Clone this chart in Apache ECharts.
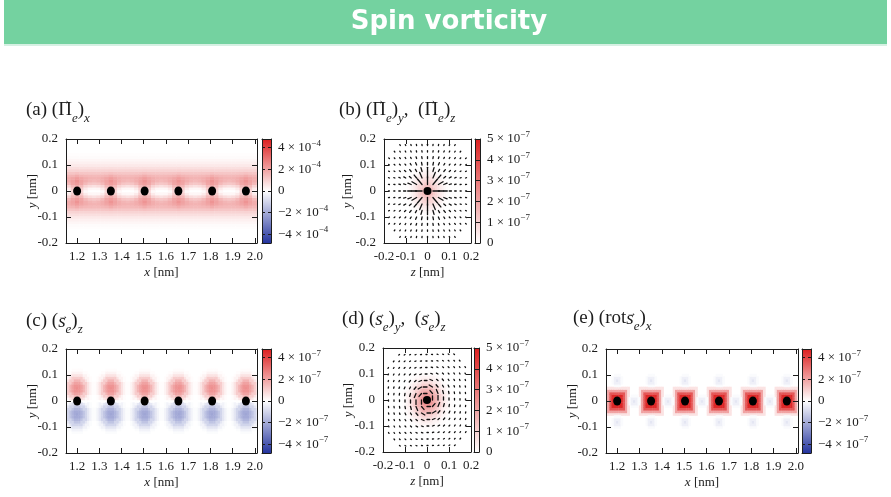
<!DOCTYPE html>
<html><head><meta charset="utf-8">
<script src="https://cdn.jsdelivr.net/npm/echarts@6/dist/echarts.min.js"></script>
<style>html,body{margin:0;padding:0;background:#fff}#c{width:891px;height:497px}</style>
</head><body><div id="c"></div>
<script>
// ================= DATA =================
const atomX = [1.2, 1.352, 1.504, 1.656, 1.808, 1.96];       // atom positions along x [nm]
const xRange = [1.15, 2.01];
const xTicks = [1.2, 1.3, 1.4, 1.5, 1.6, 1.7, 1.8, 1.9, 2.0];
const yTicks = [-0.2, -0.1, 0, 0.1, 0.2];
const zTicks = [-0.2, -0.1, 0, 0.1, 0.2];
const cbSignedTicks = [-4, -2, 0, 2, 4];
const cbPositiveTicks = [0, 1, 2, 3, 4, 5];
const cbSignedRange = [-4.8, 4.8];
const cbPositiveRange = [0, 5];

// (a) (Pi_e)_x  [1e-4], rows |y| = 0..0.20 step 0.01, columns = distance from atom along x
const aColOffset = [0, 0.019, 0.038, 0.057, 0.076];
const aCol0 = [1.2, 1.4, 1.75, 2.1, 2.3, 2.1, 1.75, 1.3, 0.95, 0.7, 0.48, 0.33, 0.19, 0.09, 0.035, 0, 0, 0, 0, 0, 0];
const aCol1 = [0.8, 1.05, 1.5, 1.9, 2.0, 1.9, 1.6, 1.25, 0.92, 0.68, 0.48, 0.33, 0.19, 0.09, 0.035, 0, 0, 0, 0, 0, 0];
const aCol2 = [0.15, 0.45, 0.95, 1.5, 1.75, 1.75, 1.55, 1.22, 0.92, 0.68, 0.48, 0.33, 0.19, 0.09, 0.035, 0, 0, 0, 0, 0, 0];
const aCol3 = [0.0, 0.2, 0.75, 1.25, 1.58, 1.65, 1.5, 1.2, 0.92, 0.68, 0.48, 0.33, 0.19, 0.09, 0.035, 0, 0, 0, 0, 0, 0];
const aCol4 = [0.0, 0.18, 0.65, 1.18, 1.5, 1.62, 1.48, 1.19, 0.92, 0.68, 0.48, 0.33, 0.19, 0.09, 0.035, 0, 0, 0, 0, 0, 0];

// (b) |Pi_e| in y-z plane [1e-7] vs radius (step 0.01 nm)
const bField = [1.7, 1.6, 1.4, 1.15, 0.9, 0.65, 0.45, 0.28, 0.15, 0.07, 0.02];
// (b) arrow length [nm] vs lattice ring index
const bVecLen = [0, 0.030, 0.024, 0.016, 0.010, 0.007, 0.005, 0.0045, 0.004, 0.004];

// (c) (s_e)_z [1e-7]: lobes above (+) and below (-) each atom, vs radius (step 0.01 nm)
const cLobeY = [0.05, -0.05];
const cRed = [2.4, 2.3, 2.0, 1.6, 1.1, 0.6, 0.25, 0.06];
const cBlue = [-2.1, -2.0, -1.75, -1.4, -1.0, -0.6, -0.28, -0.08];

// (d) |s_e| in y-z plane [1e-7] vs radius (step 0.01 nm)
const dField = [2.7, 2.6, 2.35, 2.0, 1.65, 1.3, 0.98, 0.7, 0.45, 0.26, 0.12, 0.04];
const dVecLen = [0, 0.016, 0.017, 0.012, 0.008, 0.006, 0.005, 0.0045, 0.004, 0.004];

// (e) (rot s_e)_x [1e-7]: square core around each atom vs max(|dx|,|dy|) (step 0.01 nm)
const eCore = [4.8, 4.8, 4.6, 3.6, 2.0, 0.6, 0];
// faint negative spots (above/below atoms and between atoms), vs radius (step 0.01 nm)
const eSpot = [-0.6, -0.35, -0.1];
const eSpotY = [0.08, -0.08];

// vector lattice for (b),(d)
const vecStep = 0.025;
const vecIndexMax = 7;
const vecMaxSq = 74;

// ================= STYLE =================
const FONT = "'Liberation Serif', 'DejaVu Serif', serif";
const INK = '#1c1c1c';
const DIVERGING = ['#24349e', '#ffffff', '#dc1f1f'];
const SEQUENTIAL = ['#ffffff', '#dc1f1f'];

// ================= BUILD CELLS =================
const aCols = [aCol0, aCol1, aCol2, aCol3, aCol4];
const aCellW = aColOffset[1], aCellH = 0.01;
const aCells = [];
atomX.forEach((ax, i) => {
  for (let k = (i === 0 ? -4 : -3); k <= 4; k++) {
    const col = aCols[Math.abs(k)];
    for (let j = -20; j <= 20; j++) {
      const v = col[Math.abs(j)];
      if (v > 0) aCells.push([ax + k * aCellW, j * aCellH, v]);
    }
  }
});

const cell = 0.01, tabStep = 0.01;
function ridx(dx, dy) { return Math.round(Math.sqrt(dx * dx + dy * dy) / tabStep); }
function look(t, i) { return i < t.length ? t[i] : 0; }

const cCells = [];
atomX.forEach(ax => {
  for (let i = -7; i <= 7; i++) for (let j = -15; j <= 15; j++) {
    const dx = i * cell, dy = j * cell;
    const v = look(cRed, ridx(dx, dy - cLobeY[0])) + look(cBlue, ridx(dx, dy - cLobeY[1]));
    if (Math.abs(v) > 0.03) cCells.push([ax + dx, dy, v]);
  }
});

const eCells = [];
atomX.forEach(ax => {
  for (let i = -6; i <= 6; i++) for (let j = -6; j <= 6; j++) {
    const v = look(eCore, Math.max(Math.abs(i), Math.abs(j)));
    if (v > 0) eCells.push([ax + i * cell, j * cell, v]);
  }
});
const eSpotCenters = [];
atomX.forEach(ax => eSpotY.forEach(sy => eSpotCenters.push([ax, sy])));
for (let i = 0; i < atomX.length - 1; i++) eSpotCenters.push([(atomX[i] + atomX[i + 1]) / 2, 0]);
eSpotCenters.forEach(([cx, cy]) => {
  for (let i = -2; i <= 2; i++) for (let j = -2; j <= 2; j++) {
    const v = look(eSpot, ridx(i * cell, j * cell));
    if (v < 0) eCells.push([cx + i * cell, cy + j * cell, v]);
  }
});

function radialCells(tab) {
  const out = [];
  for (let i = -12; i <= 12; i++) for (let j = -12; j <= 12; j++) {
    const v = look(tab, ridx(i * cell, j * cell));
    if (v > 0) out.push([i * cell, j * cell, v]);
  }
  return out;
}
const bCells = radialCells(bField);
const dCells = radialCells(dField);

function vectors(lenTab, tangential) {
  const out = [];
  for (let k = -vecIndexMax; k <= vecIndexMax; k++) for (let m = -vecIndexMax; m <= vecIndexMax; m++) {
    const sq = k * k + m * m;
    if (sq === 0 || sq > vecMaxSq) continue;
    const r = Math.sqrt(sq), L = lenTab[Math.round(r)];
    const ux = k / r, uy = m / r;
    out.push([k * vecStep, m * vecStep, tangential ? -uy * L : ux * L, tangential ? ux * L : uy * L]);
  }
  return out;
}
const bVecs = vectors(bVecLen, false);
const dVecs = vectors(dVecLen, true);

// ================= COLOR (library interpolation) =================
function lerpColor(t, colors) {
  t = Math.max(0, Math.min(1, t));
  return echarts.color.lerp(t, colors);
}

// ================= LAYOUT =================
const grids = [], xAxes = [], yAxes = [], series = [];
function addGrid(g) { grids.push(Object.assign({ show: false, containLabel: false }, g)); return grids.length - 1; }
const nameStyle = { fontFamily: FONT, fontSize: 13, color: INK,
  rich: { i: { fontFamily: FONT, fontSize: 13, fontStyle: 'italic', color: INK } } };
function ax(gi, min, max, pos, ticks, len) {
  return { gridIndex: gi, type: 'value', min, max, position: pos, z: 10,
    splitLine: { show: false }, axisPointer: { show: false },
    axisLine: { show: true, onZero: false, lineStyle: { color: INK, width: 1 } },
    axisTick: ticks ? { show: true, inside: true, length: len, customValues: ticks, lineStyle: { color: INK, width: 1 } } : { show: false },
    axisLabel: { show: false } };
}
const numFmt = v => (v === 0 ? '0' : v.toFixed(1));
function panel(g, xr, yr, xT, yT, xName, yName, yGap) {
  const gi = addGrid(g);
  const xb = ax(gi, xr[0], xr[1], 'bottom', xT, 5);
  xb.axisLabel = { show: true, customValues: xT, formatter: numFmt, margin: 7, fontFamily: FONT, fontSize: 13, color: INK };
  Object.assign(xb, { name: xName, nameLocation: 'middle', nameGap: 23, nameMoveOverlap: false, nameTextStyle: nameStyle });
  const yl = ax(gi, yr[0], yr[1], 'left', yT, 5);
  yl.axisLabel = { show: true, customValues: yT, formatter: numFmt, margin: 8, fontFamily: FONT, fontSize: 13, color: INK };
  Object.assign(yl, { name: yName, nameLocation: 'middle', nameGap: yGap, nameMoveOverlap: false, nameTextStyle: nameStyle });
  const xi = xAxes.length; xAxes.push(xb, ax(gi, xr[0], xr[1], 'top', xT, 5));
  const yi = yAxes.length; yAxes.push(yl, ax(gi, yr[0], yr[1], 'right', yT, 5));
  return { xi, yi };
}
function colorbar(g, range, ticks, exp, colors) {
  const gi = addGrid(g);
  const xi = xAxes.length; xAxes.push(ax(gi, 0, 1, 'bottom'), ax(gi, 0, 1, 'top'));
  const yr = ax(gi, range[0], range[1], 'right', ticks, 3);
  yr.axisLabel = { show: true, customValues: ticks, margin: 7,
    formatter: v => v === 0 ? '{n|0}' : '{n|' + (v < 0 ? '\u2212' : '') + Math.abs(v) + ' \u00d7 10}{s|\u2212' + exp + '}',
    rich: { n: { fontFamily: FONT, fontSize: 13, lineHeight: 18, color: INK },
            s: { fontFamily: FONT, fontSize: 9, lineHeight: 8, verticalAlign: 'top', color: INK } } };
  const yi = yAxes.length; yAxes.push(ax(gi, range[0], range[1], 'left', ticks, 3), yr);
  const stops = colors.slice().reverse().map((c, i, a) => ({ offset: i / (a.length - 1), color: c }));
  series.push({ type: 'custom', xAxisIndex: xi, yAxisIndex: yi, silent: true, z: 1, progressive: 0,
    data: [[0, range[0], 1, range[1]]],
    renderItem: (p, api) => {
      const a = api.coord([api.value(0), api.value(3)]), b = api.coord([api.value(2), api.value(1)]);
      return { type: 'rect', shape: { x: a[0], y: a[1], width: b[0] - a[0], height: b[1] - a[1] },
        style: { fill: new echarts.graphic.LinearGradient(0, 0, 0, 1, stops) } };
    } });
}
function field(p, cells, w, h, range, colors) {
  series.push({ type: 'custom', xAxisIndex: p.xi, yAxisIndex: p.yi, silent: true, clip: true, z: 1, progressive: 0,
    encode: { x: 0, y: 1 }, data: cells,
    renderItem: (prm, api) => {
      const x = api.value(0), y = api.value(1), v = api.value(2);
      const a = api.coord([x - w / 2, y + h / 2]), b = api.coord([x + w / 2, y - h / 2]);
      return { type: 'rect', shape: { x: a[0], y: a[1], width: b[0] - a[0] + 0.5, height: b[1] - a[1] + 0.5 },
        style: { fill: lerpColor((v - range[0]) / (range[1] - range[0]), colors) } };
    } });
}
function arrows(p, vecs) {
  series.push({ type: 'custom', xAxisIndex: p.xi, yAxisIndex: p.yi, silent: true, clip: true, z: 3, progressive: 0,
    encode: { x: 0, y: 1 }, data: vecs,
    renderItem: (prm, api) => {
      const s = api.coord([api.value(0), api.value(1)]);
      const e = api.coord([api.value(0) + api.value(2), api.value(1) + api.value(3)]);
      return { type: 'line', shape: { x1: s[0], y1: s[1], x2: e[0], y2: e[1] },
        style: { stroke: '#111', lineWidth: 1.3, lineCap: 'round' } };
    } });
}
function dots(p, pts, size) {
  series.push({ type: 'scatter', xAxisIndex: p.xi, yAxisIndex: p.yi, silent: true, z: 4,
    symbol: 'circle', symbolSize: size, itemStyle: { color: '#000', opacity: 1 }, data: pts });
}

const yRange = [-0.2, 0.2], zRange = [-0.2, 0.2];
// (a)
const pa = panel({ left: 66, top: 139, width: 191, height: 104 }, xRange, yRange, xTicks, yTicks, '{i|x} [nm]', '{i|y} [nm]', 27);
field(pa, aCells, aCellW, aCellH, cbSignedRange, DIVERGING);
dots(pa, atomX.map(x => [x, 0]), [8, 9]);
colorbar({ left: 262, top: 139, width: 9, height: 104 }, cbSignedRange, cbSignedTicks, '4', DIVERGING);
// (b)
const pb = panel({ left: 384, top: 139, width: 87, height: 104 }, zRange, yRange, zTicks, yTicks, '{i|z} [nm]', '{i|y} [nm]', 30);
field(pb, bCells, cell, cell, cbPositiveRange, SEQUENTIAL);
arrows(pb, bVecs);
dots(pb, [[0, 0]], [8, 8]);
colorbar({ left: 475, top: 139, width: 5, height: 104 }, cbPositiveRange, cbPositiveTicks, '7', SEQUENTIAL);
// (c)
const pc = panel({ left: 66, top: 349, width: 191, height: 104 }, xRange, yRange, xTicks, yTicks, '{i|x} [nm]', '{i|y} [nm]', 27);
field(pc, cCells, cell, cell, cbSignedRange, DIVERGING);
dots(pc, atomX.map(x => [x, 0]), [8, 9]);
colorbar({ left: 262, top: 349, width: 9, height: 104 }, cbSignedRange, cbSignedTicks, '7', DIVERGING);
// (d)
const pd = panel({ left: 383, top: 348, width: 88, height: 104 }, zRange, yRange, zTicks, yTicks, '{i|z} [nm]', '{i|y} [nm]', 28);
field(pd, dCells, cell, cell, cbPositiveRange, SEQUENTIAL);
arrows(pd, dVecs);
dots(pd, [[0, 0]], [8, 8]);
colorbar({ left: 474, top: 348, width: 5, height: 104 }, cbPositiveRange, cbPositiveTicks, '7', SEQUENTIAL);
// (e)
const pe = panel({ left: 606, top: 349, width: 192, height: 104 }, xRange, yRange, xTicks, yTicks, '{i|x} [nm]', '{i|y} [nm]', 27);
field(pe, eCells, cell, cell, cbSignedRange, DIVERGING);
dots(pe, atomX.map(x => [x, 0]), [8, 9]);
colorbar({ left: 802, top: 349, width: 9, height: 104 }, cbSignedRange, cbSignedTicks, '7', DIVERGING);

// ================= TITLES (rich text + arrow accents) =================
const TSTYLE = {
  n:   { size: 19, italic: false, lh: 24, va: 'top' },
  it:  { size: 19, italic: true,  lh: 24, va: 'top' },
  sub: { size: 13, italic: true,  lh: 11, va: 'bottom' }
};
const tRich = {};
Object.keys(TSTYLE).forEach(k => {
  const s = TSTYLE[k];
  tRich[k] = { fontFamily: FONT, fontSize: s.size, fontStyle: s.italic ? 'italic' : 'normal', lineHeight: s.lh, verticalAlign: s.va, fill: INK };
});
const mctx = document.createElement('canvas').getContext('2d');
function measure(text, st) {
  const s = TSTYLE[st];
  mctx.font = (s.italic ? 'italic ' : '') + s.size + 'px ' + FONT;
  return mctx.measureText(text).width;
}
const graphics = [
  { type: 'rect', shape: { x: 4, y: 0, width: 883, height: 44 }, style: { fill: '#74d2a0' } },
  { type: 'rect', shape: { x: 4, y: 44, width: 883, height: 2 }, style: { fill: '#d6f0e3' } },
  { type: 'text', x: 449, y: 22, style: { text: 'Spin vorticity', fill: '#ffffff', align: 'center', verticalAlign: 'middle',
      font: 'bold 26px "DejaVu Sans", sans-serif' } }
];
// parts: [text, style, hasArrow]
function ptitle(x, y, parts) {
  graphics.push({ type: 'text', x, y, style: { text: parts.map(p => '{' + p[1] + '|' + p[0] + '}').join(''),
    rich: tRich, fill: INK, verticalAlign: 'middle', align: 'left' } });
  let cx = x;
  parts.forEach(p => {
    const w = measure(p[0], p[1]);
    if (p[2]) {
      const big = p[0] === '\u03a0';
      graphics.push({ type: 'text', x: cx + w / 2 + (big ? 0 : 1.5), y: y - (big ? 12 : 8),
        style: { text: '\u2192', fill: INK, align: 'center', verticalAlign: 'middle',
          font: (big ? 12 : 10) + 'px ' + FONT } });
    }
    cx += w;
  });
}
const PI = '\u03a0';
ptitle(26, 113, [['(a) (', 'n'], [PI, 'n', 1], ['e', 'sub'], [')', 'n'], ['x', 'sub']]);
ptitle(339, 113, [['(b) (', 'n'], [PI, 'n', 1], ['e', 'sub'], [')', 'n'], ['y', 'sub'], [',  (', 'n'], [PI, 'n', 1], ['e', 'sub'], [')', 'n'], ['z', 'sub']]);
ptitle(26, 324, [['(c) (', 'n'], ['s', 'it', 1], ['e', 'sub'], [')', 'n'], ['z', 'sub']]);
ptitle(342, 322, [['(d) (', 'n'], ['s', 'it', 1], ['e', 'sub'], [')', 'n'], ['y', 'sub'], [',  (', 'n'], ['s', 'it', 1], ['e', 'sub'], [')', 'n'], ['z', 'sub']]);
ptitle(573, 321, [['(e) (rot', 'n'], ['s', 'it', 1], ['e', 'sub'], [')', 'n'], ['x', 'sub']]);

const chart = echarts.init(document.getElementById('c'), null, { renderer: 'canvas', width: 891, height: 497 });
chart.setOption({
  animation: false,
  backgroundColor: '#ffffff',
  grid: grids, xAxis: xAxes, yAxis: yAxes,
  series: series, graphic: graphics
});
</script>
</body></html>
